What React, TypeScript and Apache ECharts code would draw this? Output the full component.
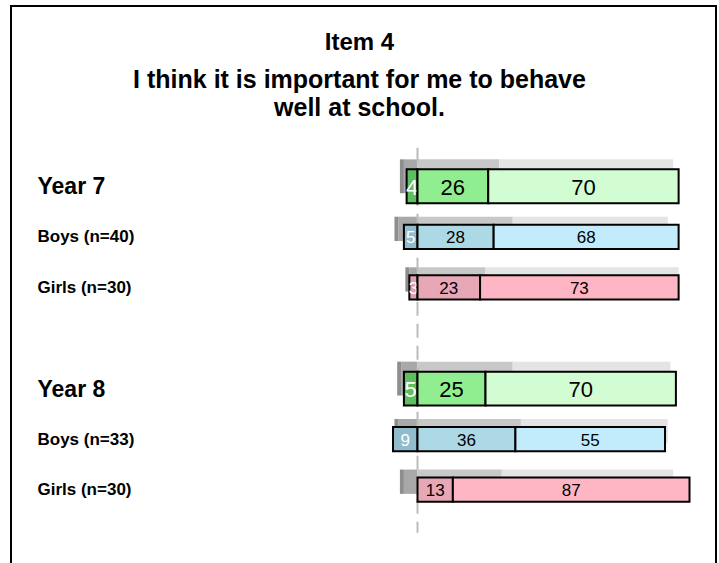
import React, { useEffect, useRef } from "react";
import * as echarts from "echarts";

const rowLabels = ["Year 7", "Boys (n=40)", "Girls (n=30)", "", "Year 8", "Boys (n=33)", "Girls (n=30)"];
const rowGroups = ["year", "boys", "girls", "", "year", "boys", "girls"];
// main bars: left segment (below zero), middle, right
const disagree = [4, 5, 3, null, 5, 9, 0];
const neutral = [26, 28, 23, null, 25, 36, 13];
const agree = [70, 68, 73, null, 70, 55, 87];
// grey comparison bars behind
const cmpDisagree = [5, 7, 3, null, 6, 7, 5];
const cmpNeutral = [30, 35, 25, null, 35, 38, 31];
const cmpAgree = [64, 57, 71, null, 58, 54, 63];
const titleLine1 = "Item 4";
const titleLine2 = "I think it is important for me to behave\nwell at school.";

const FONT = '"Liberation Sans", Arial, Helvetica, sans-serif';
const COLORS: Record<string, string[]> = {
  year: ["#5fbf5f", "#90ee90", "#d2fdd2"],
  boys: ["#90bccd", "#add8e6", "#c2ecfc"],
  girls: ["#e19fae", "#e8a7b6", "#ffb6c4"],
};
const SHADOW = ["#a8a8a8", "#c8c8c8", "#e4e4e4"];

function buildSegments(d: (number | null)[], n: (number | null)[], a: (number | null)[]) {
  const out: number[][] = [];
  for (let i = 0; i < rowLabels.length; i++) {
    if (d[i] == null || n[i] == null || a[i] == null) continue;
    const dv = d[i] as number, nv = n[i] as number, av = a[i] as number;
    out.push([i, -dv, 0, 0, dv]);
    out.push([i, 0, nv, 1, nv]);
    out.push([i, nv, nv + av, 2, av]);
  }
  return out;
}

export default function App() {
  const ref = useRef<HTMLDivElement>(null);
  useEffect(() => {
    document.body.style.margin = "0";
    const chart = echarts.init(ref.current!, null, { renderer: "svg" });
    const mainData = buildSegments(disagree, neutral, agree);
    const cmpData = buildSegments(cmpDisagree, cmpNeutral, cmpAgree);

    const renderMain = (params: any, api: any) => {
      const row = api.value(0), s = api.value(1), e = api.value(2), seg = api.value(3), v = api.value(4);
      if (e - s <= 0) return null;
      const group = rowGroups[row];
      const isYear = group === "year";
      const band = api.size([0, 1])[1];
      const h = band * (isYear ? 0.67 : 0.48);
      const p0 = api.coord([s, row]);
      const p1 = api.coord([e, row]);
      const x = p0[0], w = p1[0] - p0[0], y = p0[1] - h / 2;
      return {
        type: "group",
        children: [
          { type: "rect", shape: { x, y, width: w, height: h }, style: { fill: COLORS[group][seg], stroke: "#000", lineWidth: 2 } },
          {
            type: "text",
            style: {
              text: String(v), x: x + w / 2, y: p0[1] + 1,
              fill: seg === 0 ? "#ffffff" : "#000000",
              font: `${isYear ? 22 : 17}px ${FONT}`,
              align: "center", verticalAlign: "middle", textAlign: "center", textVerticalAlign: "middle",
            },
          },
        ],
      };
    };

    const renderShadow = (params: any, api: any) => {
      const row = api.value(0), s = api.value(1), e = api.value(2), seg = api.value(3);
      if (e - s <= 0) return null;
      const group = rowGroups[row];
      const isYear = group === "year";
      const band = api.size([0, 1])[1];
      const h = band * (isYear ? 0.67 : 0.48);
      const off = isYear ? 10 : 8;
      const p0 = api.coord([s, row]);
      const p1 = api.coord([e, row]);
      const x = p0[0], w = p1[0] - p0[0], y = p0[1] - h / 2 - off;
      const children: any[] = [
        { type: "rect", shape: { x, y, width: w, height: h }, style: { fill: SHADOW[seg] } },
      ];
      if (seg === 0) {
        children.push({ type: "rect", shape: { x: x - 4, y, width: 4, height: h }, style: { fill: "#8e8e8e" } });
      }
      return { type: "group", children };
    };

    const renderZero = (params: any, api: any) => {
      const band = api.size([0, 1])[1];
      const top = api.coord([0, 0]);
      const bot = api.coord([0, rowLabels.length - 1]);
      return {
        type: "line",
        shape: { x1: top[0], y1: top[1] - band * 0.76, x2: top[0], y2: bot[1] + band * 0.85 },
        style: { stroke: "#bcbcbc", lineWidth: 2, lineDash: [14, 8] },
      };
    };

    chart.setOption({
      animation: false,
      title: [
        { text: titleLine1, left: "center", top: 29, padding: 0, textStyle: { fontSize: 24, fontWeight: "bold", color: "#000", fontFamily: FONT, lineHeight: 25 } },
        { text: titleLine2, left: "center", top: 65, padding: 0, textStyle: { fontSize: 25, fontWeight: "bold", color: "#000", fontFamily: FONT, lineHeight: 28 } },
      ],
      graphic: [
        { type: "rect", z: -1, silent: true, shape: { x: 11, y: 6, width: 705, height: 620 }, style: { fill: "none", stroke: "#000", lineWidth: 2 } },
      ],
      grid: { left: 363.1, right: 29.5, top: 161, height: 354 },
      xAxis: { type: "value", min: -20, max: 100, show: false, splitLine: { show: false } },
      yAxis: {
        type: "category",
        data: rowLabels,
        inverse: true,
        axisLine: { show: false },
        axisTick: { show: false },
        splitLine: { show: false },
        axisLabel: {
          margin: 363.1 - 37.5,
          align: "left",
          formatter: (v: string, i: number) => (v === "" ? "" : rowGroups[i] === "year" ? `{y|${v}}` : `{s|${v}}`),
          rich: {
            y: { fontSize: 23, fontWeight: "bold", color: "#000", fontFamily: FONT },
            s: { fontSize: 17, fontWeight: "bold", color: "#000", fontFamily: FONT },
          },
        },
      },
      series: [
        { type: "custom", name: "comparison", z: 1, renderItem: renderShadow, data: cmpData, encode: { x: [1, 2], y: 0 } },
        { type: "custom", name: "zero", z: 2, renderItem: renderZero, data: [[0, 0]], encode: { x: 0, y: 1 } },
        { type: "custom", name: "responses", z: 3, renderItem: renderMain, data: mainData, encode: { x: [1, 2], y: 0 } },
      ],
    });
    return () => chart.dispose();
  }, []);
  return <div ref={ref} style={{ width: 719, height: 563 }} />;
}
